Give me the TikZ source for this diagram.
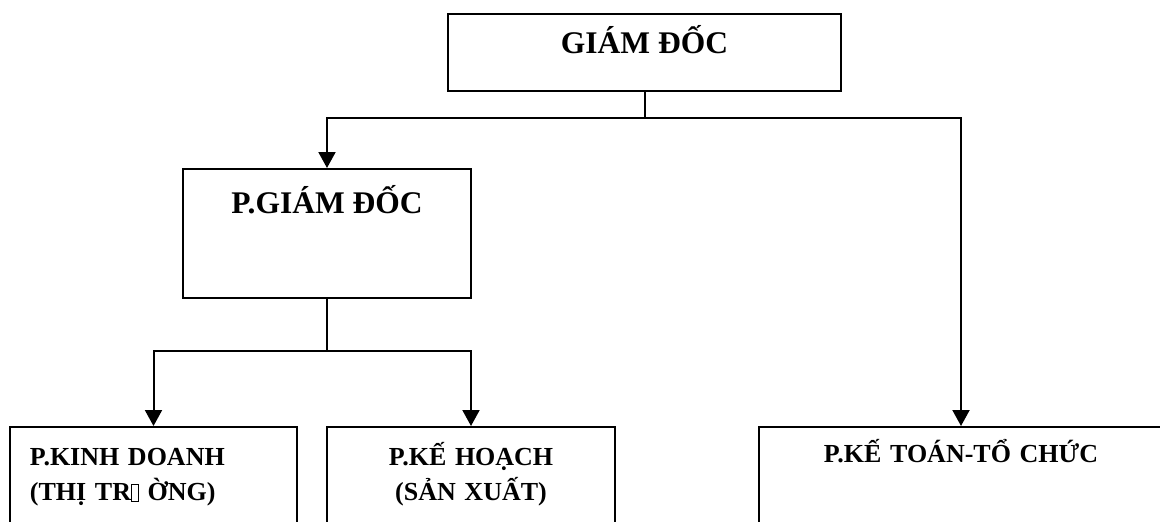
\documentclass[tikz,border=0pt]{standalone}
\usepackage{fontspec}
\setmainfont{Liberation Serif}
\usetikzlibrary{arrows.meta}
\newcommand\missingglyph{{\fboxsep=0pt\fboxrule=0.9pt\fbox{\rule{0pt}{16pt}\hspace{6pt}}}}
\newcommand\topstrut[1]{\rule{0pt}{#1}}
\newcommand\botstrut[1]{\rule[-#1]{0pt}{#1}}
\tikzset{
  box/.style={draw=black, line width=1.8pt, rectangle, inner sep=0pt, anchor=north, font=\bfseries},
  bigfont/.style={font=\bfseries\fontsize{31.5}{36}\selectfont},
  smallfont/.style={font=\bfseries\fontsize{26}{35}\selectfont},
  conn/.style={line width=2pt},
  arr/.style={line width=2pt, -{Triangle[length=16pt,width=17pt]}}
}
\begin{document}
\begin{tikzpicture}[x=1pt,y=-1pt]
\useasboundingbox (0,0) rectangle (1160,522);
\clip (0,0) rectangle (1160,522);
% boxes
\node[box, bigfont, minimum width=393pt] (gd) at (644.5,13)
  {\topstrut{40pt}GIÁM ĐỐC\botstrut{37pt}};
\node[box, bigfont, minimum width=288pt] (pgd) at (327,168)
  {\topstrut{45pt}P.GIÁM ĐỐC\botstrut{84pt}};
\node[box, smallfont, text width=247pt, inner xsep=20pt, align=left] (kd) at (153.5,426)
  {\topstrut{39pt}P.KINH DOANH\\(THỊ TR\missingglyph{} ỜNG)\botstrut{100pt}};
\node[box, smallfont, text width=288pt, align=center] (kh) at (471,426)
  {\topstrut{39pt}P.KẾ HOẠCH\\(SẢN XUẤT)\botstrut{100pt}};
\node[box, smallfont, text width=404pt, align=center] (kt) at (961,426)
  {\topstrut{36pt}P.KẾ TOÁN-TỔ CHỨC\botstrut{140pt}};
% connectors
\draw[conn] (gd.south) -- ++(0,26) coordinate (j1);
\draw[arr] (j1) -| (pgd.north);
\draw[arr] (j1) -| (kt.north);
\draw[conn] (pgd.south) -- ++(0,52) coordinate (j2);
\draw[arr] (j2) -| (kd.north);
\draw[arr] (j2) -| (kh.north);
\end{tikzpicture}
\end{document}
